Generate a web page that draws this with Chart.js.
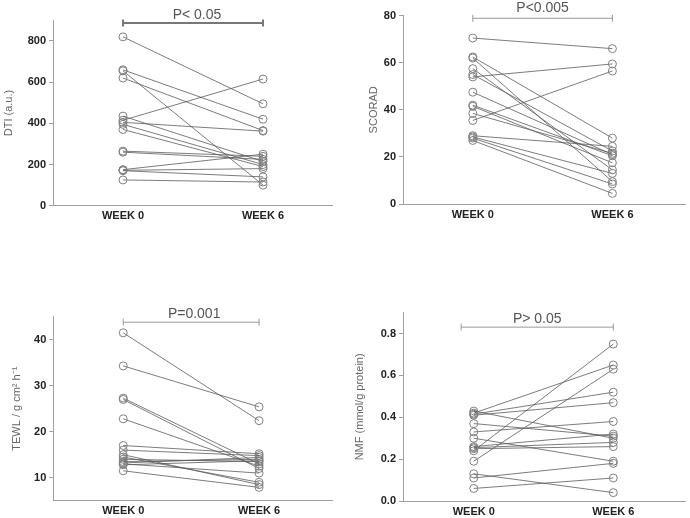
<!DOCTYPE html>
<html>
<head>
<meta charset="utf-8">
<script src="https://cdn.jsdelivr.net/npm/chart.js@4/dist/chart.umd.min.js"></script>
<style>
  html, body { margin: 0; padding: 0; background: #fff; }
  #wrap { position: relative; width: 690px; height: 518px; overflow: hidden; }
  #wrap canvas { position: absolute; left: 0; top: 0; }
</style>
</head>
<body>
<div id="wrap">
  <canvas id="c1" width="690" height="540"></canvas>
  <canvas id="c2" width="690" height="540"></canvas>
  <canvas id="c3" width="690" height="540"></canvas>
  <canvas id="c4" width="690" height="540"></canvas>
</div>
<script>
// ---------- data ----------
const weekLabels = ['WEEK 0', 'WEEK 6'];
const weekValues = [0, 1];

const dtiWeek0 = [820, 660, 655, 620, 435, 415, 405, 395, 370, 265, 260, 175, 172, 170, 125];
const dtiWeek6 = [495, 420, 100, 365, 215, 615, 362, 200, 190, 240, 225, 250, 180, 140, 115];
const dtiTicks = [0, 200, 400, 600, 800];

const scoradWeek0 = [70.5, 62.5, 62, 57.5, 55, 54, 47.5, 42, 41.5, 38.5, 35.5, 29, 28.5, 28, 27];
const scoradWeek6 = [66, 28, 9.5, 14.5, 22.5, 59.5, 21, 20.5, 17.5, 21.5, 56.5, 24.5, 13, 8.5, 4.5];
const scoradTicks = [0, 20, 40, 60, 80];

const tewlWeek0 = [41.5, 34.3, 27.3, 27.0, 22.8, 17.0, 16.0, 15.0, 14.5, 14.0, 13.5, 13.2, 13.0, 12.8, 11.5];
const tewlWeek6 = [22.4, 25.4, 13.0, 12.0, 12.5, 15.2, 14.8, 8.5, 9.0, 13.5, 14.0, 14.4, 11.0, 13.7, 7.9];
const tewlTicks = [10, 20, 30, 40];

const nmfWeek0 = [0.43, 0.42, 0.415, 0.41, 0.37, 0.33, 0.30, 0.26, 0.255, 0.25, 0.24, 0.19, 0.13, 0.11, 0.06];
const nmfWeek6 = [0.30, 0.65, 0.52, 0.47, 0.31, 0.38, 0.19, 0.32, 0.28, 0.26, 0.75, 0.63, 0.04, 0.18, 0.11];
const nmfTicks = [0, 0.2, 0.4, 0.6, 0.8];

const pTexts = ['P< 0.05', 'P<0.005', 'P=0.001', 'P> 0.05'];
const axisTitles = ['DTI (a.u.)', 'SCORAD', 'TEWL / g cm\u00B2 h\u207B\u00B9', 'NMF (mmol/g protein)'];

// ---------- rendering ----------
const FONT = "'Liberation Sans', Arial, sans-serif";

const sigPlugin = {
  id: 'sig',
  afterDraw(chart, args, o) {
    const ctx = chart.ctx, xs = chart.scales.x, ys = chart.scales.y;
    const x0 = xs.getPixelForValue(o.from), x1 = xs.getPixelForValue(o.to);
    const y = ys.getPixelForValue(o.at);
    ctx.save();
    ctx.strokeStyle = o.color;
    ctx.lineWidth = o.width;
    ctx.beginPath();
    ctx.moveTo(x0, y); ctx.lineTo(x1, y);
    ctx.moveTo(x0, y - o.cap); ctx.lineTo(x0, y + o.cap);
    ctx.moveTo(x1, y - o.cap); ctx.lineTo(x1, y + o.cap);
    ctx.stroke();
    ctx.fillStyle = '#555';
    ctx.font = '14px ' + FONT;
    ctx.textAlign = 'center';
    ctx.textBaseline = 'alphabetic';
    ctx.fillText(o.text, (x0 + x1) / 2 + o.dx, y - o.gap);
    ctx.restore();
  }
};

function makeChart(id, w0, w6, yTicks, yMin, yMax, fmt, xMin, xMax, yAxisW, pad, title, sig) {
  const datasets = w0.map((v, i) => ({
    data: [{ x: weekValues[0], y: v }, { x: weekValues[1], y: w6[i] }],
    borderColor: '#5a5a5a',
    borderWidth: 0.8,
    pointRadius: 4,
    pointBorderWidth: 1,
    pointBorderColor: '#808080',
    pointBackgroundColor: 'rgba(0,0,0,0)',
    fill: false,
    tension: 0
  }));
  new Chart(document.getElementById(id), {
    type: 'line',
    data: { datasets },
    plugins: [sigPlugin],
    options: {
      responsive: false,
      animation: false,
      devicePixelRatio: 1,
      layout: { padding: pad },
      plugins: { legend: { display: false }, tooltip: { enabled: false }, sig },
      scales: {
        x: {
          type: 'linear',
          min: xMin, max: xMax,
          afterBuildTicks: (s) => { s.ticks = weekValues.map(v => ({ value: v })); },
          afterFit: (s) => { s.height = 22; s.paddingLeft = 0; s.paddingRight = 0; s.paddingTop = 0; s.paddingBottom = 0; },
          ticks: {
            autoSkip: false, maxRotation: 0, padding: 4,
            color: '#222', font: { family: FONT, size: 11, weight: 'bold' },
            callback: (v, i) => weekLabels[i]
          },
          grid: { display: false, drawTicks: false, tickLength: 0 },
          border: { display: true, color: '#a0a0a0', width: 1 }
        },
        y: {
          type: 'linear',
          min: yMin, max: yMax,
          afterBuildTicks: (s) => { s.ticks = yTicks.map(v => ({ value: v })); },
          afterFit: (s) => { s.width = yAxisW; s.paddingLeft = 0; s.paddingRight = 0; s.paddingTop = 0; s.paddingBottom = 0; },
          ticks: {
            autoSkip: false, padding: 3,
            color: '#222', font: { family: FONT, size: 11, weight: 'bold' },
            callback: fmt
          },
          grid: { display: true, drawOnChartArea: false, drawTicks: true, tickLength: 4, color: '#a0a0a0' },
          border: { display: true, color: '#a0a0a0', width: 1 },
          title: {
            display: true, text: title, color: '#666',
            font: { family: FONT, size: 11 }, padding: { top: 0, bottom: 0 }
          }
        }
      }
    }
  });
}

const intFmt = (v) => String(v);
const oneDec = (v) => v.toFixed(1);

makeChart('c1', dtiWeek0, dtiWeek6, dtiTicks, 0, 900, intFmt, -0.5, 1.493, 50.6,
  { left: 2.4, right: 358, top: 20.4, bottom: 312.3 }, axisTitles[0],
  { from: 0, to: 1, at: 887, cap: 3.5, width: 2, color: '#777', gap: 4, dx: 4, text: pTexts[0] });

makeChart('c2', scoradWeek0, scoradWeek6, scoradTicks, 0, 80, intFmt, -0.5, 1.52, 36.1,
  { left: 366.9, right: 0, top: 15.7, bottom: 314 }, axisTitles[1],
  { from: 0, to: 1, at: 78.9, cap: 3.5, width: 1, color: '#999', gap: 6.5, dx: 0, text: pTexts[1] });

makeChart('c3', tewlWeek0, tewlWeek6, tewlTicks, 5, 45, intFmt, -0.515, 1.537, 42.9,
  { left: 10.4, right: 358, top: 316.7, bottom: 17.3 }, axisTitles[2],
  { from: 0, to: 1, at: 43.8, cap: 3.5, width: 1, color: '#999', gap: 4, dx: 3, text: pTexts[2] });

makeChart('c4', nmfWeek0, nmfWeek6, nmfTicks, 0, 0.9, oneDec, -0.507, 1.514, 50.1,
  { left: 352.9, right: 0, top: 312.7, bottom: 17 }, axisTitles[3],
  { from: -0.09, to: 1, at: 0.831, cap: 3.5, width: 1, color: '#999', gap: 4, dx: 0, text: pTexts[3] });
</script>
</body>
</html>
